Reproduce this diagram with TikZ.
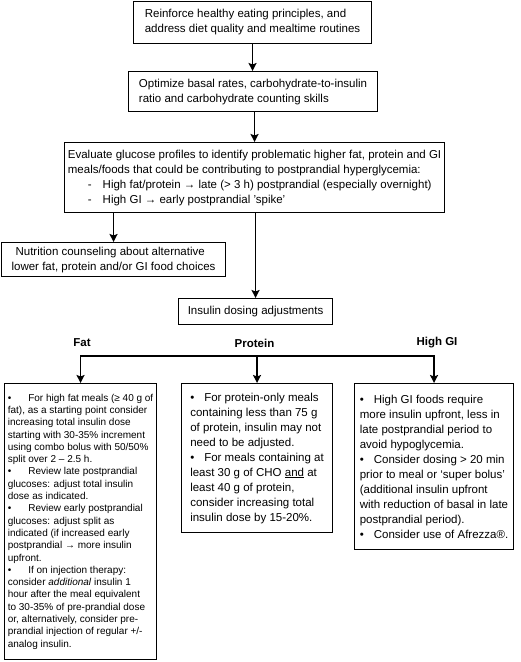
\documentclass[tikz,border=0pt]{standalone}
\usepackage{fontspec}
\setmainfont{Liberation Sans}
\usepackage{tikz}
\usetikzlibrary{arrows, arrows.meta}

\begin{document}
\begin{tikzpicture}[x=1pt, y=1pt,
  box/.style={draw, line width=1.1pt, anchor=north west, align=left, inner xsep=2pt, inner ysep=0pt, font=\fontsize{11.5}{15}\selectfont},
  small box/.style={box, font=\fontsize{10}{12.3}\selectfont},
  head/.style={font=\fontsize{11.5}{14}\selectfont\bfseries},
  arr/.style={-{Stealth[length=8pt, width=8pt, inset=1.5pt]}, line width=1.8pt}]
\useasboundingbox (0,0) rectangle (520,-662);
\node[box, minimum width=238pt, minimum height=42pt] (reinforce) at (133,-0.6) {Reinforce healthy eating principles, and\\address diet quality and mealtime routines};
\node[box, minimum width=249pt, minimum height=40pt] (optimize) at (128,-71) {Optimize basal rates, carbohydrate-to-insulin\\ratio and carbohydrate counting skills};
\node[box, minimum width=380pt, minimum height=70pt] (evaluate) at (64,-142) {Evaluate glucose profiles to identify problematic higher fat, protein and GI\\meals/foods that could be contributing to postprandial hyperglycemia:\\\hspace*{20pt}-\hspace{11pt}High fat/protein → late (> 3 h) postprandial (especially overnight)\\\hspace*{20pt}-\hspace{11pt}High GI → early postprandial 'spike'};
\node[box, minimum width=224pt, minimum height=34pt] (counsel) at (1,-242) {\hspace*{4pt}Nutrition counseling about alternative\\lower fat, protein and/or GI food choices};
\node[box, minimum width=154pt, minimum height=26pt] (dosing) at (178,-298) {Insulin dosing adjustments};
\node[head] (fat label) at (82,-343) {Fat};
\node[head] (protein label) at (254.5,-343) {Protein};
\node[head] (gi label) at (437,-343) {High GI};
\coordinate (split) at (255,-356);
\node[small box, minimum width=152pt, minimum height=276pt] (fat) at (4,-383) {\textbullet\hspace{17pt}For high fat meals (≥ 40 g of\\fat), as a starting point consider\\increasing total insulin dose\\starting with 30-35\% increment\\using combo bolus with 50/50\%\\split over 2 – 2.5 h.\\\textbullet\hspace{17pt}Review late postprandial\\glucoses: adjust total insulin\\dose as indicated.\\\textbullet\hspace{17pt}Review early postprandial\\glucoses: adjust split as\\indicated (if increased early\\postprandial → more insulin\\upfront.\\\textbullet\hspace{17pt}If on injection therapy:\\consider \textit{additional} insulin 1\\hour after the meal equivalent\\to 30-35\% of pre-prandial dose\\or, alternatively, consider pre-\\prandial injection of regular +/-\\analog insulin.};
\node[box, minimum width=151pt, minimum height=149pt] (protein) at (181,-383) {\textbullet\hspace{10pt}For protein-only meals\\containing less than 75 g\\of protein, insulin may not\\need to be adjusted.\\\textbullet\hspace{10pt}For meals containing at\\least 30 g of CHO \underline{and} at\\least 40 g of protein,\\consider increasing total\\insulin dose by 15-20\%.};
\node[box, minimum width=159pt, minimum height=166pt] (gi) at (354,-383) {\textbullet\hspace{10pt}High GI foods require\\more insulin upfront, less in\\late postprandial period to\\avoid hypoglycemia.\\\textbullet\hspace{10pt}Consider dosing > 20 min\\prior to meal or ‘super bolus’\\(additional insulin upfront\\with reduction of basal in late\\postprandial period).\\\textbullet\hspace{10pt}Consider use of Afrezza®.};
\draw[arr] (reinforce.south) -- (reinforce.south |- optimize.north);
\draw[arr] (optimize.south -| evaluate.north) -- (evaluate.north);
\draw[arr] (evaluate.south -| counsel.north) -- (counsel.north);
\draw[arr] (evaluate.south -| dosing.north) -- (dosing.north);
\draw[line width=1.8pt, line cap=rect] (fat.north |- split) -- (gi.north |- split);
\draw[arr] (fat.north |- split) -- (fat.north);
\draw[arr] (protein.north |- split) -- (protein.north);
\draw[arr] (gi.north |- split) -- (gi.north);
\end{tikzpicture}
\end{document}
